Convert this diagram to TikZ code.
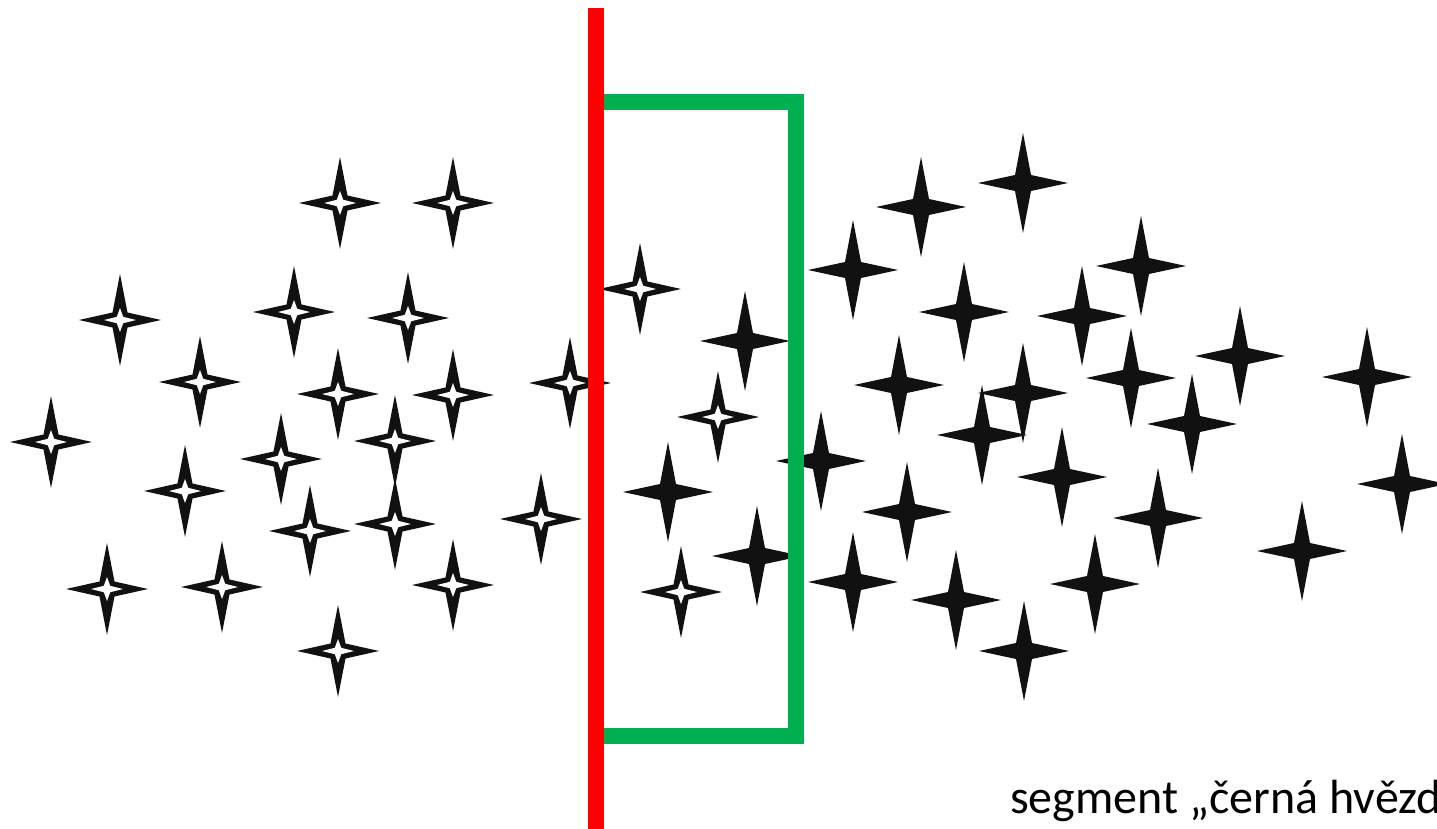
\documentclass[tikz,border=0pt]{standalone}
\usepackage{fontspec}
\setmainfont{Carlito}
\definecolor{starblack}{HTML}{111111}
\definecolor{linered}{HTML}{FF0000}
\definecolor{linegreen}{HTML}{00B050}
\begin{document}
\begin{tikzpicture}[x=1pt,y=-1pt,
  bstar/.pic={\fill[starblack] (45,0)--(8,8)--(0,50)--(-8,8)--(-45,0)--(-8,-8)--(0,-50)--(8,-8)--cycle;},
  wstar/.pic={\fill[starblack] (41,0)--(7.5,7.5)--(0,46)--(-7.5,7.5)--(-41,0)--(-7.5,-7.5)--(0,-46)--(7.5,-7.5)--cycle;
              \fill[white] (16,0)--(3.2,3.2)--(0,12)--(-3.2,3.2)--(-16,0)--(-3.2,-3.2)--(0,-12)--(3.2,-3.2)--cycle;},
  redline/.style={draw=linered,line width=16pt},
  greenline/.style={draw=linegreen,line width=16pt,line join=miter},
  caption/.style={font=\fontsize{48}{58}\selectfont,inner sep=0pt,anchor=base west}]
\fill[white] (0,0) rectangle (1437,829);
\useasboundingbox (0,0) rectangle (1437,829);
% white stars
\foreach \p in {(340,203),(453,203),(120,320),(294,312),(408,318),(200,382),(338,394),(453,395),(570,383),
  (51,442),(281,459),(395,441),(185,491),(310,531),(395,524),(541,519),(107,589),(222,587),(453,585),(338,651),
  (640,289),(718,417),(681,592)}
  \pic at \p {wstar};
% black stars
\foreach \p in {(921,207),(1023,183),(853,270),(1141,266),(964,312),(1082,316),(745,341),(899,385),(1023,393),
  (1131,378),(1240,356),(1367,377),(982,435),(1192,424),(821,461),(1062,477),(1402,484),(668,492),(907,512),
  (1158,518),(757,556),(1302,551),(853,582),(956,600),(1095,584),(1024,651)}
  \pic at \p {bstar};
% lines
\coordinate (gA) at (604,102);
\coordinate (gB) at (796,102);
\coordinate (gC) at (796,735.5);
\coordinate (gD) at (604,735.5);
\draw[greenline] (gA) -- (gB) -- (gC) -- (gD);
\coordinate (rT) at (596,8);
\coordinate (rB) at (596,829);
\draw[redline] (rT) -- (rB);
\node[caption] (lbl) at (1010,813) {segment „černá hvězd};
\end{tikzpicture}
\end{document}
